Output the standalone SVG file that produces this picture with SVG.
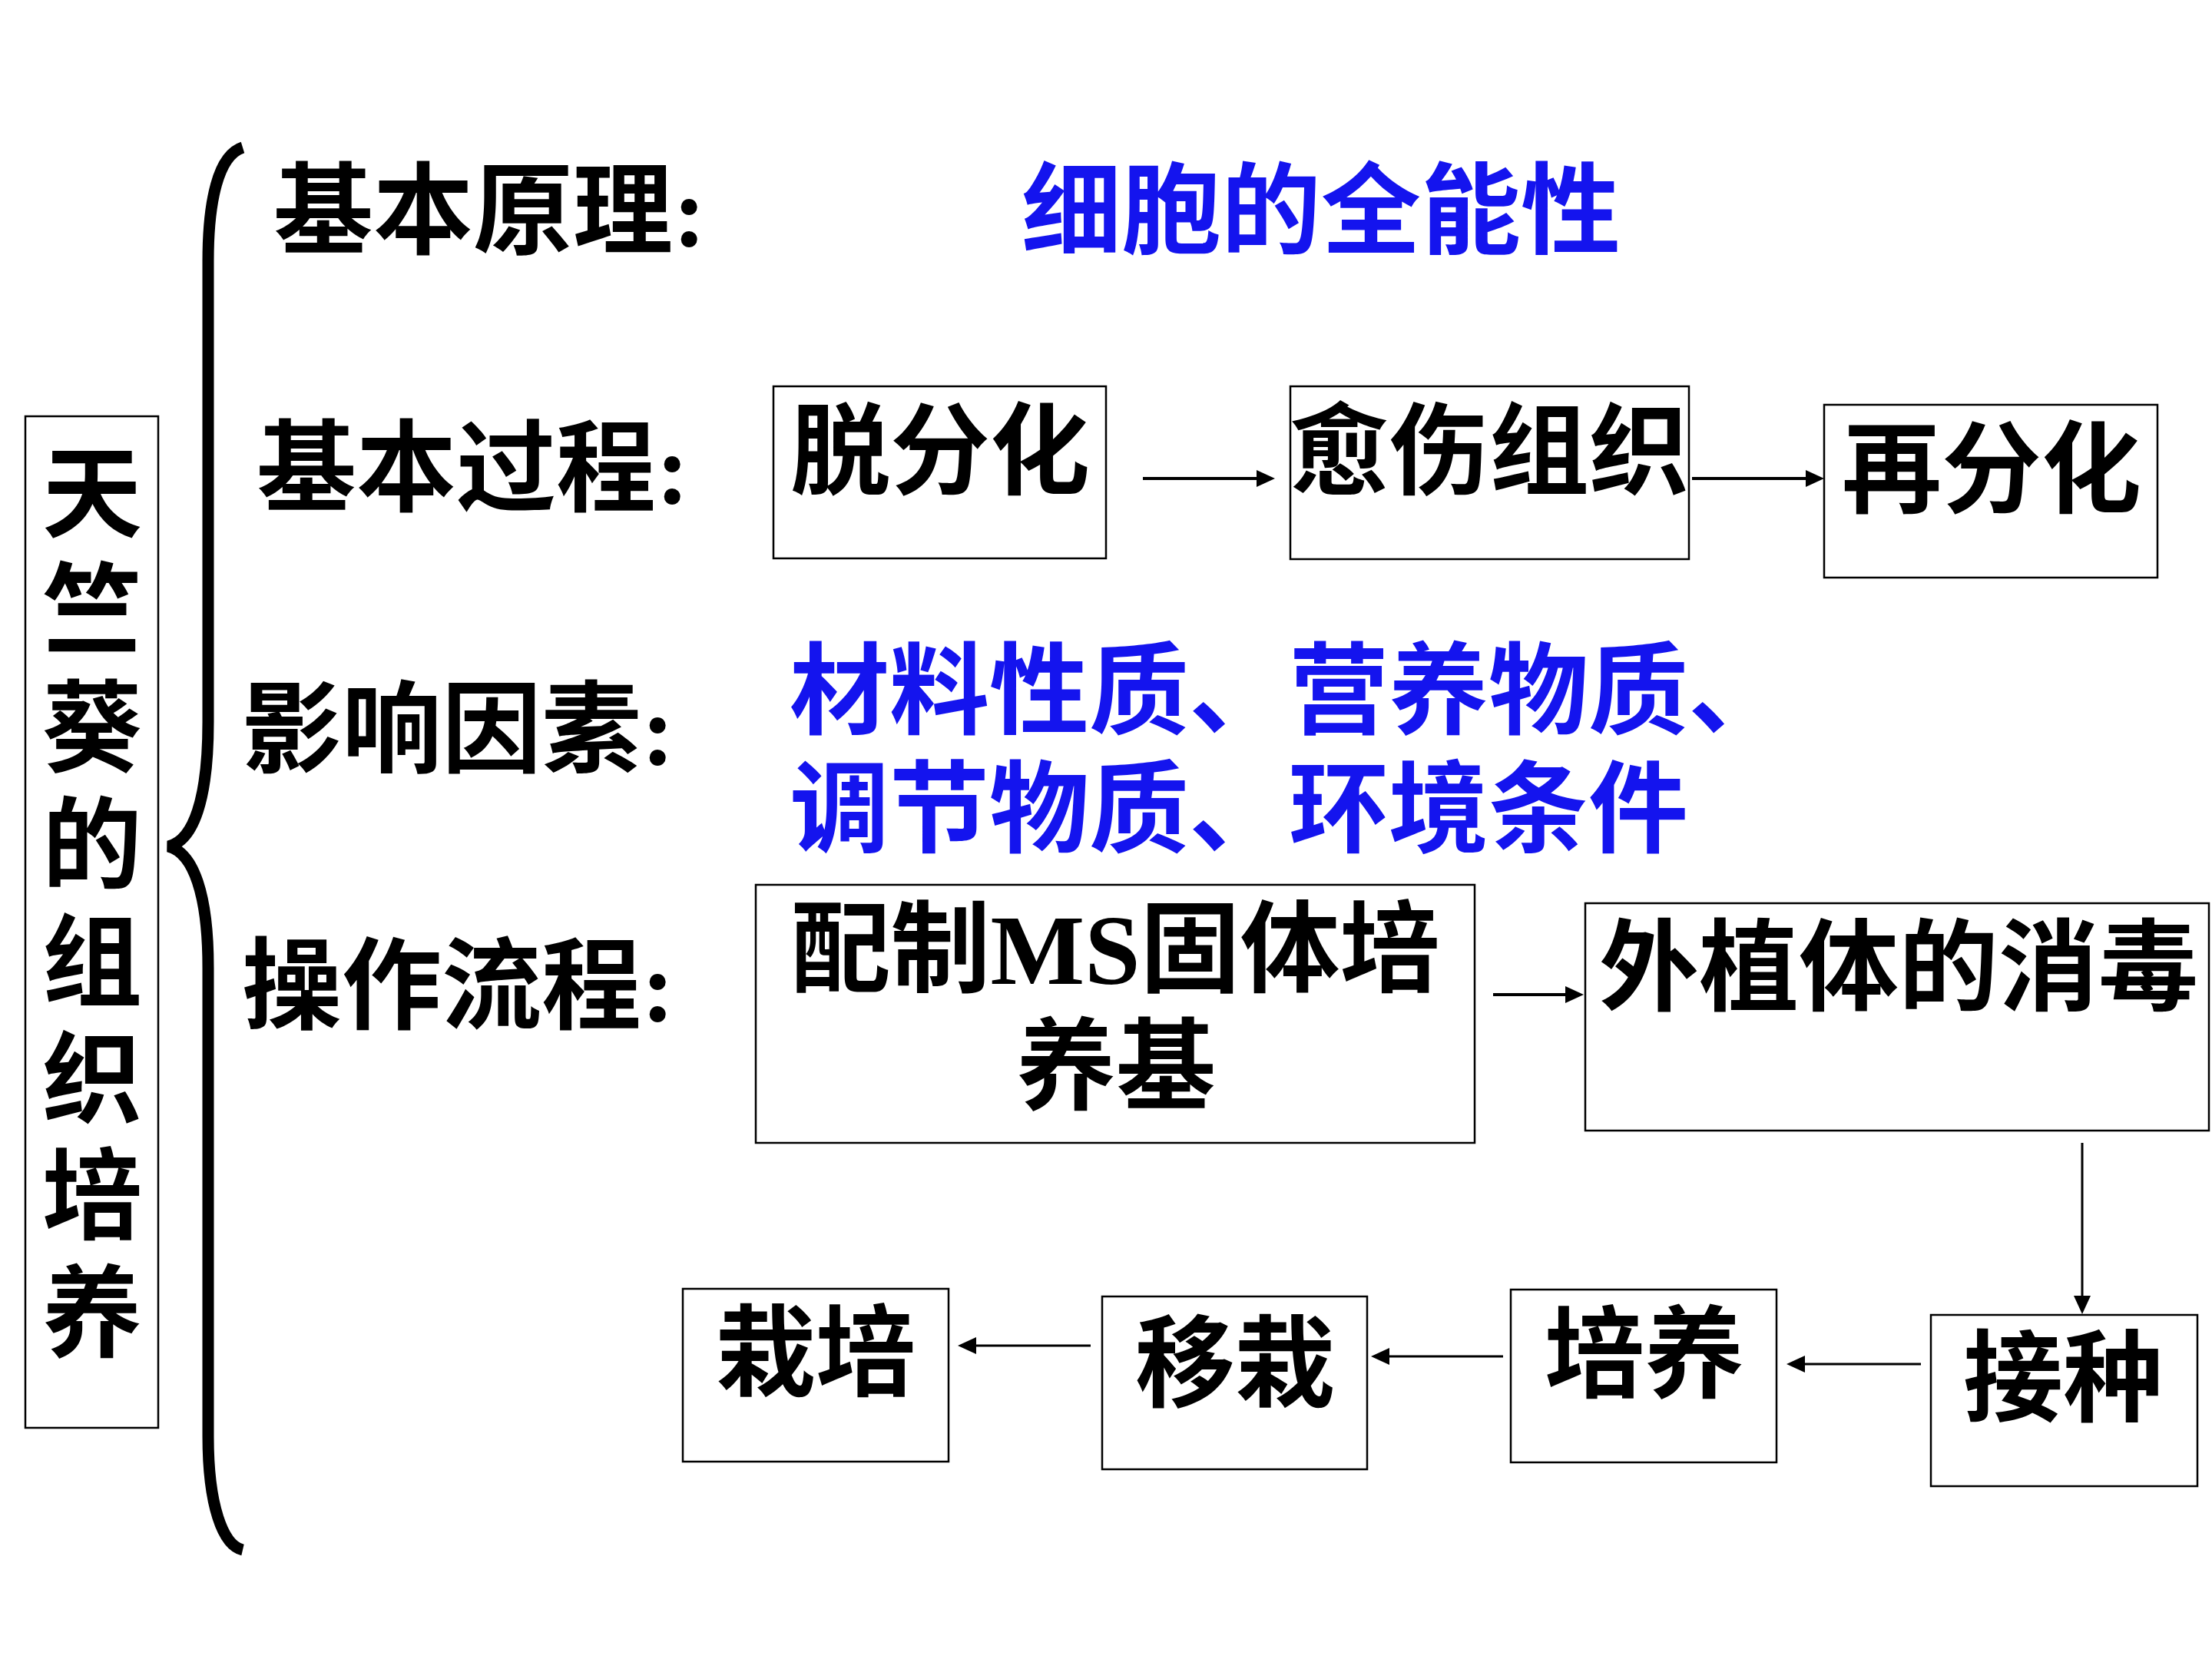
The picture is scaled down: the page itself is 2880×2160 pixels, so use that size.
<svg xmlns="http://www.w3.org/2000/svg" width="2880" height="2160" viewBox="0 0 2880 2160">
<style>
.t{font-family:"Liberation Serif","Noto Sans CJK SC",serif;font-size:130px;font-weight:bold;fill:#000}
.b{fill:#1414EE}
.c{text-anchor:middle}
.box{fill:#fff;stroke:#000;stroke-width:2.5}
.ar{stroke:#000;fill:none}
</style>
<defs>
<marker id="ah" markerUnits="userSpaceOnUse" markerWidth="26" markerHeight="24" refX="4" refY="11" orient="auto">
<path d="M0,0 L24,11 L0,22 Z" fill="#000"/>
</marker>
</defs>
<rect width="2880" height="2160" fill="#fff"/>

<g id="title">
<rect class="box" x="33" y="542" width="173" height="1317"/>
<text class="t c" x="120"><tspan x="120" y="689">天</tspan><tspan x="120" y="841">竺</tspan><tspan x="120" y="994">葵</tspan><tspan x="120" y="1146">的</tspan><tspan x="120" y="1299">组</tspan><tspan x="120" y="1451">织</tspan><tspan x="120" y="1603">培</tspan><tspan x="120" y="1756">养</tspan></text>
</g>
<g id="brace">
<path d="M316,192 C284,202 271,262 271,340 L271,940 C271,1040 252,1095 219,1102 C252,1110 271,1165 271,1260 L271,1870 C271,1960 290,2012 316,2018" fill="none" stroke="#000" stroke-width="15"/>
</g>

<g id="label-principle"><text class="t" x="356" y="320">基本原理:</text></g>
<g id="principle"><text class="t b" x="1330" y="320">细胞的全能性</text></g>
<g id="label-process"><text class="t" x="334" y="655">基本过程:</text></g>
<g id="label-factors"><text class="t" x="315" y="995">影响因素:</text></g>
<g id="factors"><text class="t b" x="1028" y="945">材料性质、营养物质、</text><text class="t b" x="1028" y="1099">调节物质、环境条件</text></g>
<g id="label-operation"><text class="t" x="315" y="1329">操作流程:</text></g>

<g id="n-dediff"><rect class="box" x="1007" y="503" width="433" height="224"/><text class="t c" x="1224" y="633">脱分化</text></g>
<g id="n-callus"><rect class="box" x="1680" y="503" width="519" height="225"/><text class="t c" x="1939" y="633">愈伤组织</text></g>
<g id="n-rediff"><rect class="box" x="2375" y="527" width="434" height="225"/><text class="t c" x="2593" y="657">再分化</text></g>

<g id="n-ms"><rect class="box" x="984" y="1152" width="936" height="336"/><text class="t c" x="1452" y="1281">配制MS固体培</text><text class="t c" x="1453" y="1434">养基</text></g>
<g id="n-disinfect"><rect class="box" x="2064" y="1176" width="812" height="296"/><text class="t c" x="2472" y="1305">外植体的消毒</text></g>

<g id="n-cultivate"><rect class="box" x="889" y="1678" width="346" height="225"/><text class="t c" x="1062" y="1807">栽培</text></g>
<g id="n-transplant"><rect class="box" x="1435" y="1688" width="345" height="225"/><text class="t c" x="1608" y="1821">移栽</text></g>
<g id="n-culture"><rect class="box" x="1967" y="1679" width="346" height="225"/><text class="t c" x="2141" y="1809">培养</text></g>
<g id="n-inoculate"><rect class="box" x="2514" y="1712" width="347" height="223"/><text class="t c" x="2686" y="1840">接种</text></g>

<g id="connectors">
<line class="ar" x1="1488" y1="623" x2="1640" y2="623" stroke-width="4" marker-end="url(#ah)"/>
<line class="ar" x1="2203" y1="623" x2="2355" y2="623" stroke-width="4" marker-end="url(#ah)"/>
<line class="ar" x1="1944" y1="1295" x2="2042" y2="1295" stroke-width="4" marker-end="url(#ah)"/>
<line class="ar" x1="2711" y1="1488" x2="2711" y2="1691" stroke-width="3" marker-end="url(#ah)"/>
<line class="ar" x1="2501" y1="1776" x2="2346" y2="1776" stroke-width="3" marker-end="url(#ah)"/>
<line class="ar" x1="1957" y1="1766" x2="1805" y2="1766" stroke-width="3" marker-end="url(#ah)"/>
<line class="ar" x1="1420" y1="1752" x2="1267" y2="1752" stroke-width="3" marker-end="url(#ah)"/>
</g>
</svg>
